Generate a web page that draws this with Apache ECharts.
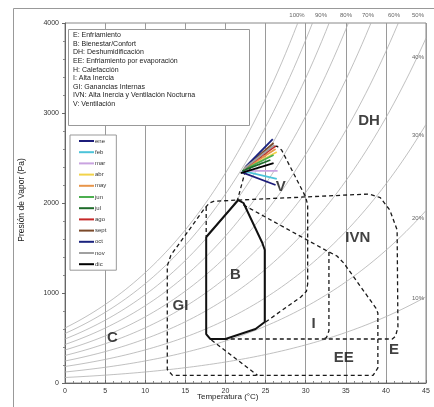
<!DOCTYPE html>
<html>
<head>
<meta charset="utf-8">
<script src="https://cdn.jsdelivr.net/npm/echarts@6/dist/echarts.min.js"></script>
<style>html,body{margin:0;padding:0;background:#fff;}#c{width:434px;height:407px;}</style>
</head>
<body>
<div id="c"></div>
<script>
// ---- data ----
const X_TICKS = [0, 5, 10, 15, 20, 25, 30, 35, 40, 45];
const Y_TICKS = [0, 1000, 2000, 3000, 4000];
const RH_LEVELS = [10, 20, 30, 40, 50, 60, 70, 80, 90, 100];
const RH_TOP_LABELS = ['100%', '90%', '80%', '70%', '60%', '50%'];
const RH_SIDE_LABELS = ['40%', '30%', '20%', '10%'];

const MONTHS = ['ene', 'feb', 'mar', 'abr', 'may', 'jun', 'jul', 'ago', 'sept', 'oct', 'nov', 'dic'];
const MONTH_COLORS = ['#1c1c7a', '#4cc3d9', '#c9a3e0', '#f2d34a', '#e8954a', '#4caf50', '#1e6b2a', '#c62828', '#7b4a2a', '#1a237e', '#a0a0a0', '#000000'];
// [Tstart, Pstart, Tend, Pend]
const MONTH_LINES = [
  [22.0, 2344, 26.25, 2200],
  [22.1, 2356, 26.4, 2267],
  [22.25, 2356, 26.5, 2356],
  [22.25, 2367, 26.4, 2567],
  [22.4, 2378, 26.25, 2600],
  [22.25, 2367, 26.0, 2533],
  [22.1, 2356, 25.6, 2478],
  [22.4, 2389, 26.25, 2633],
  [22.4, 2389, 26.0, 2667],
  [22.5, 2400, 25.9, 2711],
  [22.25, 2378, 26.1, 2644],
  [21.9, 2333, 26.0, 2444]
];

const ZONE_B = [[17.6,1622],[21.6,2033],[22.25,2000],[24.6,1556],[24.9,1478],[24.9,678],[23.75,600],[20,489],[18.1,489],[17.6,544],[17.6,1622]];
const ZONE_EE_GI_IVN = [[22.25,1978],[32.9,1456],[33.9,1411],[34.75,1333],[38.75,833],[39.0,778],[39.0,167],[38.4,85],[13.4,85],[12.75,150],[12.75,1300],[13.2,1420],[17.4,1940],[18.0,2000],[18.6,2020],[37.9,2100],[39.3,2060],[40.5,1920],[41.4,1700],[41.5,620],[41.2,520],[40.8,489],[20.0,489]];
const ZONE_EE_LEFT = [[18.25,478],[24.0,85]];
const ZONE_I = [[32.9,1456],[32.9,580],[32.6,505],[32.2,489]];
const ZONE_V = [[25,678],[29.4,956],[30.1,1020],[30.25,1100],[30.25,1978],[30.0,2067],[27.0,2589],[26.4,2633],[25.8,2620],[22.4,2330],[21.5,2033]];
const ZONE_B_EXT = [[17.6,1955],[17.6,1622]];

const ZONE_LABELS = ['DH', 'IVN', 'B', 'GI', 'C', 'I', 'EE', 'E', 'V'];
const ZONE_LABEL_POS = [[37.9,2911],[36.5,1611],[21.25,1200],[14.4,856],[5.9,500],[31,656],[34.75,278],[41,367],[26.9,2178]];

const INFO_TEXT = [
  'E: Enfriamiento',
  'B: Bienestar/Confort',
  'DH: Deshumidificación',
  'EE: Enfriamiento por evaporación',
  'H: Calefacción',
  'I: Alta Inercia',
  'GI: Ganancias Internas',
  'IVN: Alta Inercia y Ventilación Nocturna',
  'V: Ventilación'
];

// ---- psychrometric grid (constant relative humidity curves) ----
function psat(T) { return 611.2 * Math.exp(17.62 * T / (243.12 + T)); }
function tAt(p) { const a = Math.log(p / 611.2); return 243.12 * a / (17.62 - a); }
function rhCurve(rh) {
  const pts = [];
  for (let i = 0; i <= 92; i++) {
    const T = -1 + i * 0.5;
    const p = rh / 100 * psat(T);
    if (p > 4000) { pts.push([tAt(4000 * 100 / rh), 4000]); break; }
    pts.push([T, p]);
  }
  return pts;
}

const series = [];
RH_LEVELS.forEach(rh => series.push({
  type: 'line', data: rhCurve(rh), symbol: 'none', silent: true, clip: false, z: 1,
  lineStyle: { color: '#b0b0b0', width: 0.8 }
}));
const dash = { color: '#1a1a1a', width: 1.3, type: [4, 3] };
[ZONE_EE_GI_IVN, ZONE_EE_LEFT, ZONE_I, ZONE_V, ZONE_B_EXT].forEach(d => series.push({
  type: 'line', data: d, symbol: 'none', silent: true, z: 3, lineStyle: dash
}));
series.push({ type: 'line', data: ZONE_B, symbol: 'none', silent: true, z: 4,
  lineStyle: { color: '#111', width: 2 } });
MONTHS.forEach((m, i) => series.push({
  name: m, type: 'line', symbol: 'none', z: 5,
  data: [[MONTH_LINES[i][0], MONTH_LINES[i][1]], [MONTH_LINES[i][2], MONTH_LINES[i][3]]],
  lineStyle: { color: MONTH_COLORS[i], width: 1.8 }, itemStyle: { color: MONTH_COLORS[i] }
}));
series.push({
  type: 'scatter', symbolSize: 0, silent: true, z: 6,
  data: ZONE_LABEL_POS.map((p, i) => ({ value: p, label: { formatter: ZONE_LABELS[i] } })),
  label: { show: true, position: 'inside', fontFamily: 'Liberation Sans', fontWeight: 'bold', fontSize: 15, color: '#111' }
});

const chart = echarts.init(document.getElementById('c'), null, { renderer: 'canvas' });
const topLabelX = [297, 321, 346, 368, 394, 418];
const sideLabelY = [57, 135, 218, 298];
const graphics = [
  { type: 'rect', z: 0, shape: { x: 13.5, y: 8.5, width: 440, height: 420 }, style: { fill: 'none', stroke: '#999', lineWidth: 1 } },
  { type: 'rect', z: 100, shape: { x: 68.5, y: 29.5, width: 181, height: 96 }, style: { fill: '#fff', stroke: '#999', lineWidth: 1 } },
  { type: 'text', z: 101, left: 73, top: 31, style: { text: INFO_TEXT.join('\n'), font: '7px "Liberation Sans"', lineHeight: 8.6, fill: '#222' } },
  { type: 'text', z: 101, left: 197, top: 393, style: { text: 'Temperatura (°C)', font: '8px "Liberation Sans"', fill: '#222' } },
  { type: 'text', z: 101, x: 22, y: 200, rotation: Math.PI / 2, style: { text: 'Presión de Vapor (Pa)', font: '8.5px "Liberation Sans"', fill: '#222', align: 'center', verticalAlign: 'middle' } }
];
RH_TOP_LABELS.forEach((t, i) => graphics.push({ type: 'text', z: 101, x: topLabelX[i], y: 15, style: { text: t, font: '6px "Liberation Sans"', fill: '#666', align: 'center', verticalAlign: 'middle' } }));
RH_SIDE_LABELS.forEach((t, i) => graphics.push({ type: 'text', z: 101, x: 418, y: sideLabelY[i], style: { text: t, font: '6px "Liberation Sans"', fill: '#666', align: 'center', verticalAlign: 'middle' } }));

chart.setOption({
  animation: false,
  backgroundColor: '#fff',
  grid: { left: 65, right: 8, top: 23, bottom: 24, show: true, borderColor: '#888', borderWidth: 1 },
  xAxis: {
    type: 'value', min: X_TICKS[0], max: X_TICKS[X_TICKS.length - 1], interval: 5,
    axisLine: { show: true, lineStyle: { color: '#666' } },
    axisTick: { show: true, inside: true, length: 3, lineStyle: { color: '#666' } },
    minorTick: { show: true, splitNumber: 5, length: 2, lineStyle: { color: '#888' } },
    splitLine: { show: true, lineStyle: { color: '#9a9a9a', width: 1 } },
    axisLabel: { fontSize: 7, color: '#333', fontFamily: 'Liberation Sans', margin: 5, formatter: v => String(v) }
  },
  yAxis: {
    type: 'value', min: Y_TICKS[0], max: Y_TICKS[Y_TICKS.length - 1], interval: 1000,
    axisLine: { show: true, lineStyle: { color: '#666' } },
    axisTick: { show: true, length: 3, lineStyle: { color: '#666' } },
    minorTick: { show: true, splitNumber: 5, length: 2, lineStyle: { color: '#888' } },
    splitLine: { show: false },
    axisLabel: { fontSize: 7, color: '#333', fontFamily: 'Liberation Sans', margin: 6, formatter: v => String(v) }
  },
  legend: {
    data: MONTHS.map(m => ({ name: m, icon: 'rect' })),
    orient: 'vertical', left: 70, top: 135, itemWidth: 15, itemHeight: 2, itemGap: 3.2,
    padding: [2, 10, 2, 9], backgroundColor: '#fff', borderColor: '#999', borderWidth: 1,
    textStyle: { fontSize: 6, lineHeight: 8, color: '#333', fontFamily: 'Liberation Sans', padding: [0, 0, 0, -4] },
    selectedMode: false
  },
  graphic: graphics,
  series: series
});
</script>
</body>
</html>
